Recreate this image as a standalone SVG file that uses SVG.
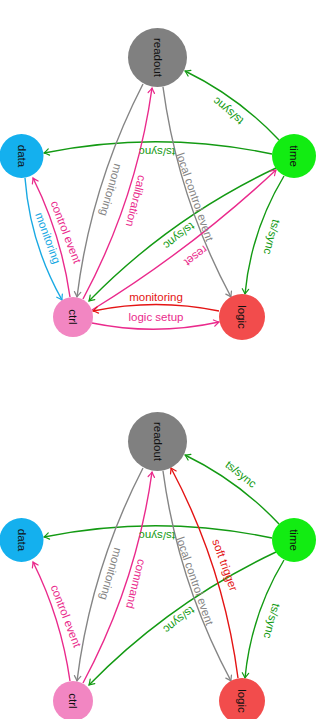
<svg xmlns="http://www.w3.org/2000/svg" width="323" height="719" viewBox="0 0 323 719">
  <style>
    .edge { fill: none; stroke-width: 1.4; }
    .g { stroke: #139a13; }
    .k { stroke: #858585; }
    .p { stroke: #ea2a8c; }
    .c { stroke: #19a9e3; }
    .r { stroke: #e41414; }
    .lbl { font-family: "Liberation Sans", Arial, sans-serif; font-size: 11.5px; text-anchor: middle; dominant-baseline: central; }
    .tg { fill: #139a13; }
    .tk { fill: #858585; }
    .tp { fill: #ea2a8c; }
    .tc { fill: #19a9e3; }
    .tr { fill: #e41414; }
    .node-label { font-family: "Liberation Sans", Arial, sans-serif; font-size: 11.5px; fill: #111; text-anchor: middle; dominant-baseline: central; }
  </style>
  <defs>
    <marker id="ah-g" viewBox="-6 -4 8 8" refX="0" refY="0" markerWidth="8" markerHeight="8" orient="auto" markerUnits="userSpaceOnUse" overflow="visible">
      <path d="M-5,-3.2 Q-1.8,-0.9 0,0 Q-1.8,0.9 -5,3.2" fill="none" stroke="#139a13" stroke-width="1.2" stroke-linecap="round"/>
    </marker>
    <marker id="ah-k" viewBox="-6 -4 8 8" refX="0" refY="0" markerWidth="8" markerHeight="8" orient="auto" markerUnits="userSpaceOnUse" overflow="visible">
      <path d="M-5,-3.2 Q-1.8,-0.9 0,0 Q-1.8,0.9 -5,3.2" fill="none" stroke="#858585" stroke-width="1.2" stroke-linecap="round"/>
    </marker>
    <marker id="ah-p" viewBox="-6 -4 8 8" refX="0" refY="0" markerWidth="8" markerHeight="8" orient="auto" markerUnits="userSpaceOnUse" overflow="visible">
      <path d="M-5,-3.2 Q-1.8,-0.9 0,0 Q-1.8,0.9 -5,3.2" fill="none" stroke="#ea2a8c" stroke-width="1.2" stroke-linecap="round"/>
    </marker>
    <marker id="ah-c" viewBox="-6 -4 8 8" refX="0" refY="0" markerWidth="8" markerHeight="8" orient="auto" markerUnits="userSpaceOnUse" overflow="visible">
      <path d="M-5,-3.2 Q-1.8,-0.9 0,0 Q-1.8,0.9 -5,3.2" fill="none" stroke="#19a9e3" stroke-width="1.2" stroke-linecap="round"/>
    </marker>
    <marker id="ah-r" viewBox="-6 -4 8 8" refX="0" refY="0" markerWidth="8" markerHeight="8" orient="auto" markerUnits="userSpaceOnUse" overflow="visible">
      <path d="M-5,-3.2 Q-1.8,-0.9 0,0 Q-1.8,0.9 -5,3.2" fill="none" stroke="#e41414" stroke-width="1.2" stroke-linecap="round"/>
    </marker>
  </defs>
  <rect width="323" height="719" fill="#ffffff"/>

  <!-- ===== Upper diagram ===== -->
  <g id="edges-upper">
    <path class="edge g" d="M279,140 Q238.5,97 185,71" marker-end="url(#ah-g)"/>
    <path class="edge g" d="M272,154 Q158,130 44,153" marker-end="url(#ah-g)"/>
    <path class="edge g" d="M276,168 Q170,218 89,301" marker-end="url(#ah-g)"/>
    <path class="edge g" d="M284,176 Q251,231 245,294" marker-end="url(#ah-g)"/>
    <path class="edge k" d="M143,84 Q91,185 77,297" marker-end="url(#ah-k)"/>
    <path class="edge p" d="M83,299 Q136.5,199 152,88" marker-end="url(#ah-p)"/>
    <path class="edge k" d="M163,87 Q178,198 231,297" marker-end="url(#ah-k)"/>
    <path class="edge p" d="M70,297 Q61,234 33,178" marker-end="url(#ah-p)"/>
    <path class="edge c" d="M25,178 Q30,243 62,300" marker-end="url(#ah-c)"/>
    <path class="edge p" d="M92,310 Q190,250 276,170" marker-end="url(#ah-p)"/>
    <path class="edge p" d="M92,323 Q155.5,336 219,322" marker-end="url(#ah-p)"/>
    <path class="edge r" d="M219,311 Q156,298 93,311" marker-end="url(#ah-r)"/>

    <text class="lbl tg" transform="translate(228,111) rotate(220)">ts/sync</text>
    <text class="lbl tg" transform="translate(157,152) rotate(180)">ts/sync</text>
    <text class="lbl tg" transform="translate(179,236) rotate(142)">ts/sync</text>
    <text class="lbl tg" transform="translate(272,237) rotate(105)">ts/sync</text>
    <text class="lbl tk" transform="translate(111,190) rotate(106)">monitoring</text>
    <text class="lbl tp" transform="translate(136,201) rotate(104)">calibration</text>
    <text class="lbl tk" transform="translate(195,197) rotate(71)">local control event</text>
    <text class="lbl tp" transform="translate(66,232) rotate(69)">control event</text>
    <text class="lbl tc" transform="translate(48,238) rotate(70)">monitoring</text>
    <text class="lbl tp" transform="translate(196,256) rotate(143)">reset</text>
    <text class="lbl tp" transform="translate(156,317)">logic setup</text>
    <text class="lbl tr" transform="translate(156,297)">monitoring</text>
  </g>

  <g id="readout-upper">
    <circle cx="157.5" cy="57.5" r="29.5" fill="#808080"/>
    <text class="node-label" transform="translate(157.5,57.5) rotate(90)">readout</text>
  </g>
  <g id="data-upper">
    <circle cx="21.5" cy="156" r="22" fill="#14b0ee"/>
    <text class="node-label" transform="translate(21.5,156) rotate(90)">data</text>
  </g>
  <g id="time-upper">
    <circle cx="294" cy="156" r="22" fill="#12ec12"/>
    <text class="node-label" transform="translate(294,156) rotate(90)">time</text>
  </g>
  <g id="ctrl-upper">
    <circle cx="73" cy="317" r="20" fill="#f286c2"/>
    <text class="node-label" transform="translate(73,317) rotate(90)">ctrl</text>
  </g>
  <g id="logic-upper">
    <circle cx="242" cy="317" r="23" fill="#f24c4c"/>
    <text class="node-label" transform="translate(242,317) rotate(90)">logic</text>
  </g>

  <!-- ===== Lower diagram ===== -->
  <g id="edges-lower">
    <path class="edge g" d="M279,524 Q238.5,481 185,455" marker-end="url(#ah-g)"/>
    <path class="edge g" d="M272,538 Q158,514 44,537" marker-end="url(#ah-g)"/>
    <path class="edge g" d="M276,552 Q170,602 89,685" marker-end="url(#ah-g)"/>
    <path class="edge g" d="M284,560 Q251,615 245,678" marker-end="url(#ah-g)"/>
    <path class="edge k" d="M143,468 Q91,569 77,681" marker-end="url(#ah-k)"/>
    <path class="edge p" d="M83,683 Q136.5,583 152,472" marker-end="url(#ah-p)"/>
    <path class="edge k" d="M163,471 Q178,582 231,681" marker-end="url(#ah-k)"/>
    <path class="edge r" d="M238,678 Q223.6,567 171,468" marker-end="url(#ah-r)"/>
    <path class="edge p" d="M70,681 Q61,618 33,562" marker-end="url(#ah-p)"/>

    <text class="lbl tg" transform="translate(241,474) rotate(38)">ts/sync</text>
    <text class="lbl tg" transform="translate(157,536) rotate(180)">ts/sync</text>
    <text class="lbl tg" transform="translate(179,620) rotate(142)">ts/sync</text>
    <text class="lbl tg" transform="translate(272,621) rotate(105)">ts/sync</text>
    <text class="lbl tk" transform="translate(111,574) rotate(106)">monitoring</text>
    <text class="lbl tp" transform="translate(136,584) rotate(104)">command</text>
    <text class="lbl tk" transform="translate(195,581) rotate(71)">local control event</text>
    <text class="lbl tr" transform="translate(225,565) rotate(70)">soft trigger</text>
    <text class="lbl tp" transform="translate(66,616) rotate(69)">control event</text>
  </g>

  <g id="readout-lower">
    <circle cx="157.5" cy="441.5" r="29.5" fill="#808080"/>
    <text class="node-label" transform="translate(157.5,441.5) rotate(90)">readout</text>
  </g>
  <g id="data-lower">
    <circle cx="21.5" cy="540" r="22" fill="#14b0ee"/>
    <text class="node-label" transform="translate(21.5,540) rotate(90)">data</text>
  </g>
  <g id="time-lower">
    <circle cx="294" cy="540" r="22" fill="#12ec12"/>
    <text class="node-label" transform="translate(294,540) rotate(90)">time</text>
  </g>
  <g id="ctrl-lower">
    <circle cx="73" cy="701" r="20" fill="#f286c2"/>
    <text class="node-label" transform="translate(73,701) rotate(90)">ctrl</text>
  </g>
  <g id="logic-lower">
    <circle cx="242" cy="701" r="23" fill="#f24c4c"/>
    <text class="node-label" transform="translate(242,701) rotate(90)">logic</text>
  </g>
</svg>
